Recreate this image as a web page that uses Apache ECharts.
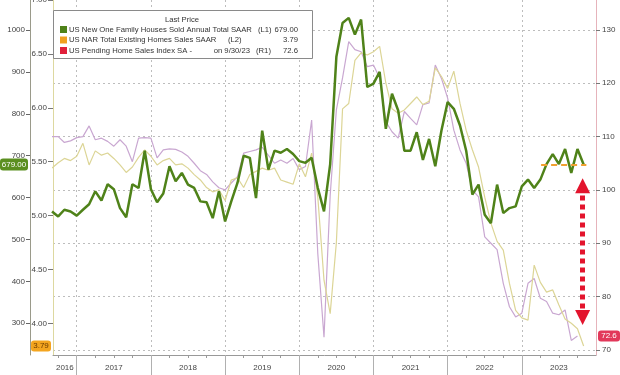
<!DOCTYPE html>
<html><head><meta charset="utf-8">
<script src="https://cdn.jsdelivr.net/npm/echarts@6/dist/echarts.min.js"></script>
<style>html,body{margin:0;padding:0;background:#fff}#c{width:620px;height:375px}</style>
</head><body><div id="c"></div>
<script>
// ---- data (monthly, month-end) ----
const startMonth = '2016-08';
// US New One Family Houses Sold Annual Total SAAR (thousands), Aug 2016 - Oct 2023
const newHomeSales = [
  567, 555, 571, 567, 557,
  571, 584, 615, 593, 632, 620, 575, 553, 632, 623, 712, 620,
  589, 610, 675, 639, 659, 631, 623, 591, 589, 551, 615, 543,
  591, 635, 700, 695, 599, 760, 667, 712, 707, 716, 704, 687,
  683, 695, 623, 567, 680, 936, 1017, 1029, 989, 1025, 864, 872,
  900, 764, 848, 808, 712, 712, 756, 690, 740, 675, 760, 828,
  812, 772, 712, 607, 631, 559, 539, 631, 563, 575, 579, 627,
  643, 623, 643, 680, 704, 680, 716, 659, 716, 679
];
// US NAR Total Existing Homes Sales SAAR (millions), Aug 2016 - Oct 2023
const existingSales = [
  5.44, 5.49, 5.53, 5.51, 5.55,
  5.67, 5.47, 5.60, 5.56, 5.58, 5.53, 5.47, 5.40, 5.45, 5.54, 5.61, 5.55,
  5.47, 5.51, 5.53, 5.47, 5.48, 5.44, 5.38, 5.33, 5.26, 5.22, 5.24, 5.14,
  5.33, 5.35, 5.26, 5.38, 5.41, 5.44, 5.42, 5.44, 5.33, 5.31, 5.29, 5.48,
  5.36, 5.58, 5.17, 4.40, 4.09, 4.75, 5.99, 6.04, 6.44, 6.51, 6.49, 6.52,
  6.57, 6.23, 5.99, 5.95, 5.98, 6.04, 6.10, 6.03, 6.06, 6.37, 6.29, 6.18,
  6.34, 6.04, 5.79, 5.61, 5.45, 5.17, 4.93, 4.76, 4.68, 4.37, 4.12, 4.05,
  4.03, 4.54, 4.38, 4.29, 4.31, 4.17, 4.04, 4.00, 3.95, 3.79
];
// US Pending Home Sales Index SA, Aug 2016 - Sep 2023
const pendingIndex = [
  110.0, 110.0, 108.9, 109.2, 109.8,
  110.0, 112.0, 109.4, 109.7, 109.1, 108.2, 109.4, 108.2, 105.3, 109.7, 109.8, 109.7,
  106.0, 107.5, 107.7, 107.6, 107.1, 106.3, 105.0, 103.6, 102.9, 101.5, 100.4, 100.0,
  101.3, 102.5, 106.9, 107.2, 107.5, 108.0, 106.5, 105.0, 105.6, 105.0, 105.9, 103.8,
  104.4, 113.1, 88.0, 72.4, 99.0, 115.0, 121.0, 127.8, 126.3, 125.9, 123.1, 123.4,
  121.0, 112.8, 110.9, 109.7, 114.7, 113.4, 112.2, 116.0, 116.3, 123.4, 120.9, 117.2,
  111.2, 107.5, 105.0, 100.0, 98.7, 91.2, 90.0, 88.8, 82.5, 78.1, 76.2, 76.9,
  82.5, 83.4, 79.7, 79.1, 76.9, 76.6, 77.5, 71.8, 72.6
];
const yearLabels = ['2016','2017','2018','2019','2020','2021','2022','2023'];
const l1Ticks = [300, 400, 500, 600, 700, 800, 900, 1000];
const l2Ticks = [4.0, 4.5, 5.0, 5.5, 6.0, 6.5, 7.0];
const r1Ticks = [70, 80, 90, 100, 110, 120, 130];
const seriesNames = [
  'US New One Family Houses Sold Annual Total SAAR',
  'US NAR Total Existing Homes Sales SAAR',
  'US Pending Home Sales Index SA -'
];
const seriesAxisTags = ['(L1)', '(L2)', '(R1)'];
const pendingDateNote = 'on 9/30/23';
const gapLevels = [76.1, 100.8];   // ends of the red arrow (R1 units)
const gapX = 2023.82;
const flatLineRange = [2023.26, 2023.87];

// ---- build ----
const [sy, sm] = startMonth.split('-').map(Number);
const toX = i => sy + (sm + i) / 12;
const xMin = 2016.68, xMax = 2024.0;
const yearStarts = yearLabels.map(Number);
const yearBoundaries = yearStarts.slice(1);
const quarterTicks = [];
yearStarts.forEach(y => [0.25, 0.5, 0.75].forEach(q => { if (y + q > xMin) quarterTicks.push(y + q); }));
const labelPos = yearStarts.map(y => (Math.max(y, xMin) + Math.min(y + 1, xMax)) / 2);

const FONT = "'Liberation Sans', Arial, sans-serif";
const GREEN = '#4f8219', YELLOW = '#dcd596', PINK = '#c9a7d1';

const chart = echarts.init(document.getElementById('c'));
chart.setOption({
  animation: false,
  backgroundColor: '#fff',
  textStyle: { fontFamily: FONT },
  grid: { left: 53, right: 24, top: 0, bottom: 20, containLabel: false, outerBoundsMode: 'none' },
  xAxis: [
    { type: 'value', min: xMin, max: xMax, position: 'bottom',
      axisLine: { show: true, lineStyle: { color: '#999', width: 1 } },
      axisTick: { show: true, customValues: yearBoundaries, length: 20, lineStyle: { color: '#b0b0b0' } },
      axisLabel: { show: false },
      splitLine: { show: true, lineStyle: { color: '#bdbdbd', type: [2, 3], width: 1 } } },
    { type: 'value', min: xMin, max: xMax, position: 'bottom',
      axisLine: { show: false },
      axisTick: { show: true, customValues: quarterTicks, length: 3, lineStyle: { color: '#999' } },
      axisLabel: { show: true, customValues: labelPos, fontSize: 8, color: '#444', margin: 9,
        formatter: v => yearLabels[labelPos.findIndex(p => Math.abs(p - v) < 1e-6)] || '' },
      splitLine: { show: false } }
  ],
  yAxis: [
    { type: 'value', position: 'left', offset: 23, min: 224.3, max: 1071.7,
      axisLine: { show: true, lineStyle: { color: '#9a9a8a' } },
      axisTick: { show: true, customValues: l1Ticks, length: 4, lineStyle: { color: '#666' } },
      axisLabel: { customValues: l1Ticks, fontSize: 8, color: '#444', margin: 5, formatter: v => String(v) },
      splitLine: { show: false } },
    { type: 'value', position: 'left', offset: 0, min: 3.706, max: 7.0,
      axisLine: { show: true, lineStyle: { color: '#ddd8a0' } },
      axisTick: { show: true, customValues: l2Ticks, length: 5, lineStyle: { color: '#777' } },
      axisLabel: { customValues: l2Ticks, fontSize: 8, color: '#444', margin: 6, formatter: v => v.toFixed(2) },
      splitLine: { show: false } },
    { type: 'value', position: 'right', min: 69.06, max: 135.6,
      axisLine: { show: true, lineStyle: { color: '#e6b3bb' } },
      axisTick: { show: true, customValues: r1Ticks, length: 4, lineStyle: { color: '#777' } },
      axisLabel: { customValues: r1Ticks, fontSize: 8, color: '#444', margin: 6 },
      splitLine: { show: true, lineStyle: { color: '#bdbdbd', type: [2, 3], width: 1 } } }
  ],
  series: [
    { name: seriesNames[2], type: 'line', xAxisIndex: 0, yAxisIndex: 2, z: 2,
      data: pendingIndex.map((v, i) => [toX(i), v]), showSymbol: false, clip: true,
      lineStyle: { color: PINK, width: 1.2 },
      markLine: { silent: true, symbol: ['triangle', 'triangle'], symbolSize: [15, 15],
        lineStyle: { color: '#e3142d', width: 5, type: [5, 4], opacity: 1 },
        itemStyle: { color: '#e3142d' }, label: { show: false },
        data: [[{ coord: [gapX, gapLevels[0]] }, { coord: [gapX, gapLevels[1]] }]] } },
    { name: seriesNames[1], type: 'line', xAxisIndex: 0, yAxisIndex: 1, z: 3,
      data: existingSales.map((v, i) => [toX(i), v]), showSymbol: false, clip: true,
      lineStyle: { color: YELLOW, width: 1.2 } },
    { name: seriesNames[0], type: 'line', xAxisIndex: 0, yAxisIndex: 0, z: 4,
      data: newHomeSales.map((v, i) => [toX(i), v]), showSymbol: false, clip: true,
      lineStyle: { color: GREEN, width: 2.5 },
      markLine: { silent: true, symbol: 'none', label: { show: false },
        lineStyle: { color: '#f0a030', width: 2, type: [6, 4], opacity: 1 },
        data: [[{ coord: [flatLineRange[0], newHomeSales[newHomeSales.length - 1]] },
                { coord: [flatLineRange[1], newHomeSales[newHomeSales.length - 1]] }]] } }
  ]
});

const lastNew = newHomeSales[newHomeSales.length - 1];
const lastEx = existingSales[existingSales.length - 1];
const lastPend = pendingIndex[pendingIndex.length - 1];
const yNew = chart.convertToPixel({ yAxisIndex: 0 }, lastNew);
const yEx = chart.convertToPixel({ yAxisIndex: 1 }, lastEx);
const yPend = chart.convertToPixel({ yAxisIndex: 2 }, lastPend);

function tag(x, y, w, h, fill, txt, color) {
  return { type: 'group', z: 100, children: [
    { type: 'rect', shape: { x: x, y: y - h / 2, width: w, height: h, r: 3 }, style: { fill: fill } },
    { type: 'text', x: x + w / 2, y: y, style: { text: txt, fill: color, font: '8px ' + FONT, align: 'center', verticalAlign: 'middle' } }
  ] };
}
function t(x, y, txt, align) {
  return { type: 'text', x: x, y: y, z: 101, style: { text: txt, fill: '#333', font: '7.7px ' + FONT, align: align || 'left', verticalAlign: 'middle' } };
}
const rowsY = [29.5, 40, 50.5];
const sq = ['#4f8219', '#f0a020', '#e0203a'];
const graphics = [
  { type: 'rect', z: 100, shape: { x: 53.5, y: 10.5, width: 259, height: 48 }, style: { fill: '#fff', stroke: '#8a8a8a', lineWidth: 1 } },
  t(182, 20, 'Last Price', 'center'),
  t(69, rowsY[0], seriesNames[0]), t(258, rowsY[0], seriesAxisTags[0]), t(298, rowsY[0], lastNew.toFixed(2), 'right'),
  t(69, rowsY[1], seriesNames[1]), t(228, rowsY[1], seriesAxisTags[1]), t(298, rowsY[1], lastEx.toFixed(2), 'right'),
  t(69, rowsY[2], seriesNames[2]), t(250, rowsY[2], pendingDateNote, 'right'), t(256, rowsY[2], seriesAxisTags[2]), t(298, rowsY[2], lastPend.toFixed(1), 'right'),
  tag(0, yNew, 28, 12, '#5b8f20', lastNew.toFixed(2), '#fff'),
  tag(31, yEx, 20, 11, '#f4a51f', lastEx.toFixed(2), '#6b3b00'),
  tag(598, yPend, 22, 11, '#e2385a', lastPend.toFixed(1), '#fff')
];
rowsY.forEach((y, i) => graphics.push({ type: 'rect', z: 101, shape: { x: 60, y: y - 3.5, width: 7, height: 7 }, style: { fill: sq[i] } }));
chart.setOption({ graphic: graphics });
</script>
</body></html>
